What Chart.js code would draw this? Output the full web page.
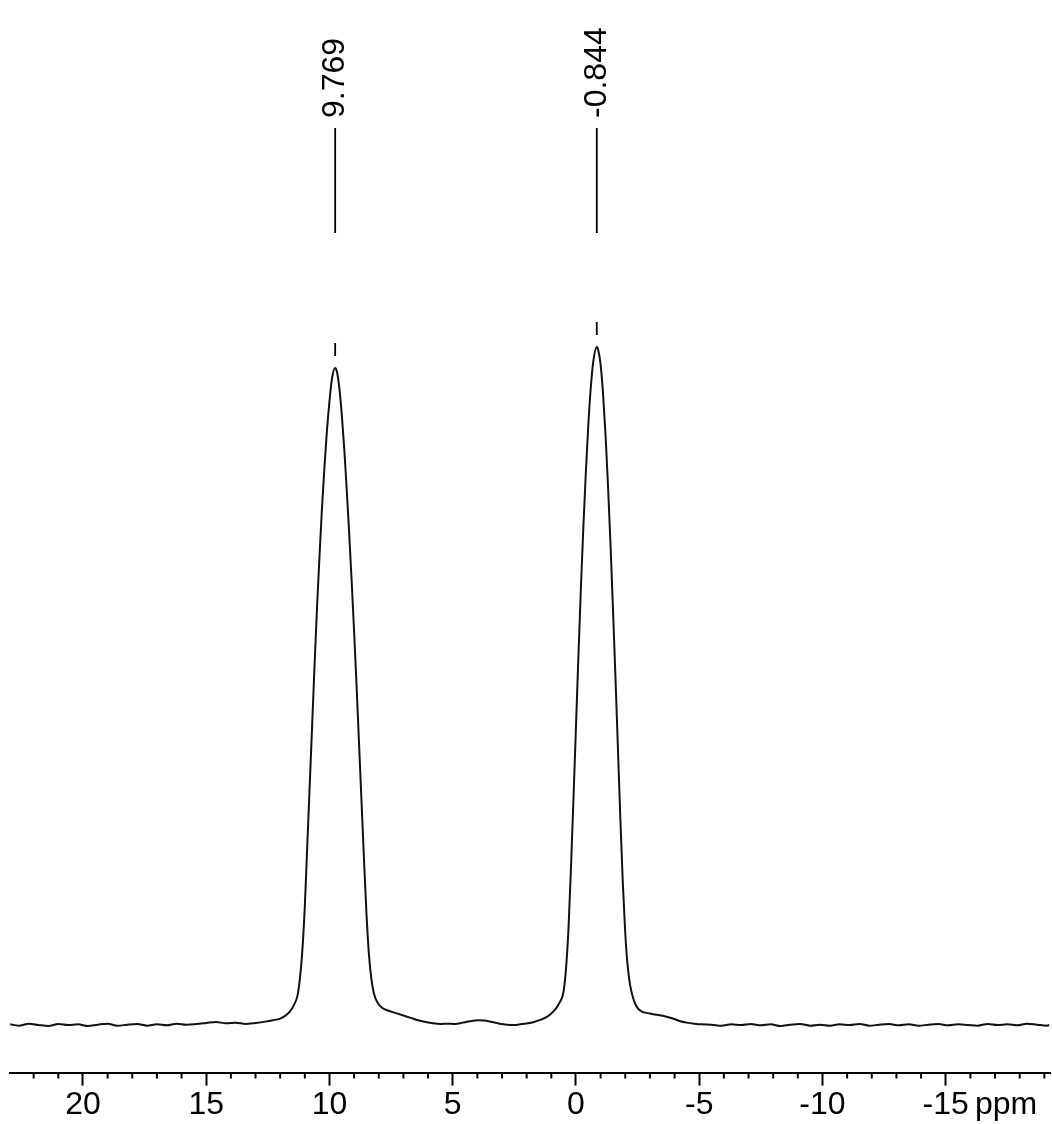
<!DOCTYPE html>
<html>
<head>
<meta charset="utf-8">
<script src="https://cdn.jsdelivr.net/npm/chart.js@4.4.0/dist/chart.umd.min.js"></script>
<style>
  html, body { margin: 0; background: #fff; }
  #wrap { width: 1052px; height: 1124px; position: relative; }
</style>
</head>
<body>
<div id="wrap"><canvas id="spec"></canvas></div>
<script>
// chemical shift (ppm) and intensity
const shiftPpm = [
  // baseline, left
  22.95, 22.6, 22.2, 21.8, 21.4, 21.0, 20.6, 20.2, 19.8, 19.4, 19.0, 18.6, 18.2, 17.8,
  17.4, 17.0, 16.6, 16.2, 15.8, 15.4, 15.0, 14.6, 14.2, 13.8, 13.4, 13.0, 12.6, 12.3,
  // peak at 9.769
  12.0, 11.8, 11.6, 11.45, 11.3, 11.2, 11.1, 11.0, 10.9, 10.8, 10.7, 10.6, 10.5, 10.4, 10.3,
  10.2, 10.1, 10.0, 9.9, 9.77, 9.7, 9.6, 9.5, 9.4, 9.3, 9.2, 9.1, 9.0, 8.9, 8.8,
  8.7, 8.6, 8.5, 8.4, 8.3, 8.2, 8.05, 7.85, 7.6, 7.3, 7.0, 6.7, 6.4, 6.1, 5.8,
  // between peaks
  5.5, 5.2, 4.9, 4.6, 4.3, 4.0, 3.7, 3.4, 3.1, 2.8, 2.5, 2.2,
  // peak at -0.844
  1.95, 1.7, 1.45, 1.2, 1.0, 0.8, 0.65, 0.5, 0.4, 0.3, 0.2, 0.1, 0.0, -0.1, -0.2, -0.3,
  -0.4, -0.5, -0.6, -0.7, -0.844, -0.9, -1.0, -1.1, -1.2, -1.3, -1.4, -1.5, -1.6, -1.7, -1.8,
  -1.9, -2.0, -2.1, -2.2, -2.35, -2.5, -2.7, -3.0, -3.3, -3.6, -3.9, -4.2, -4.5, -4.8, -5.1,
  // baseline, right
  -5.5, -5.9, -6.3, -6.7, -7.1, -7.5, -7.9, -8.3, -8.7, -9.1, -9.5, -9.9, -10.3, -10.7, -11.1, -11.5, -11.9, -12.3,
  -12.7, -13.1, -13.5, -13.9, -14.3, -14.7, -15.1, -15.5, -15.9, -16.3, -16.7, -17.1, -17.5, -17.9, -18.3, -18.7, -19.1, -19.2
];
const intensity = [
  0.10, -0.10, 0.20, 0.00, -0.15, 0.15, 0.00, 0.10, -0.15, 0.05, 0.20, -0.10, 0.05, 0.15,
  -0.10, 0.10, -0.05, 0.20, 0.05, 0.15, 0.30, 0.45, 0.25, 0.35, 0.15, 0.30, 0.50, 0.70,

  0.95, 1.35, 2.0, 2.9, 4.3, 6.8, 11.0, 17.5, 26.5, 35.5, 44.5, 53.5, 62.0, 69.5, 76.5,
  82.5, 87.8, 92.0, 95.3, 96.9, 96.4, 94.0, 90.0, 85.0, 79.0, 72.5, 65.5, 58.0, 50.0, 41.5,
  33.0, 24.5, 16.5, 10.5, 6.8, 4.7, 3.3, 2.5, 2.1, 1.75, 1.4, 1.05, 0.7, 0.45, 0.25,

  0.15, 0.20, 0.15, 0.35, 0.55, 0.70, 0.65, 0.45, 0.20, 0.05, 0.00, 0.15,

  0.25, 0.45, 0.75, 1.15, 1.7, 2.5, 3.4, 5.0, 8.5, 14.5, 23.5, 33.5, 44.0, 54.5, 64.5, 73.5,
  81.5, 88.5, 94.0, 97.8, 100.0, 99.6, 97.4, 93.0, 87.0, 79.5, 71.0, 61.5, 51.5, 41.0, 30.5,
  21.0, 13.5, 8.6, 5.8, 3.6, 2.5, 1.95, 1.7, 1.5, 1.3, 1.0, 0.6, 0.35, 0.2, 0.1,

  0.05, -0.10, 0.10, 0.00, 0.15, -0.05, 0.10, -0.15, 0.05, 0.15, -0.10, 0.05, -0.10, 0.10, 0.00, 0.15, -0.10, 0.05,
  0.15, -0.05, 0.10, -0.10, 0.05, 0.15, -0.05, 0.10, 0.00, -0.10, 0.15, 0.00, 0.10, -0.05, 0.20, 0.05, -0.10, 0.00
];

// axis
const xTickValues = [20, 15, 10, 5, 0, -5, -10, -15];
const axisUnit = 'ppm';

// picked peaks
const peakShifts = [9.769, -0.844];
const peakHeights = [96.9, 100];
const peakLabels = ['9.769', '-0.844'];

const FONT = '"Liberation Sans", Arial, sans-serif';

// peak labels, minor ticks and unit
const peakMarks = {
  id: 'peakMarks',
  afterDraw(chart) {
    const ctx = chart.ctx, xs = chart.scales.x, ys = chart.scales.y;
    ctx.save();
    ctx.strokeStyle = '#000';
    ctx.fillStyle = '#000';
    ctx.lineWidth = 1.8;
    peakShifts.forEach((p, i) => {
      const x = xs.getPixelForValue(p);
      const top = ys.getPixelForValue(peakHeights[i]);
      ctx.beginPath();
      ctx.moveTo(x, 128); ctx.lineTo(x, 233);
      ctx.moveTo(x, top - 25); ctx.lineTo(x, top - 12);
      ctx.stroke();
      ctx.save();
      ctx.translate(x, 118);
      ctx.rotate(-Math.PI / 2);
      ctx.font = '32px ' + FONT;
      ctx.textAlign = 'left';
      ctx.textBaseline = 'middle';
      ctx.fillText(peakLabels[i], 0, 0);
      ctx.restore();
    });

    // minor ticks every 1 ppm
    const axisY = xs.top;
    ctx.lineWidth = 2;
    ctx.beginPath();
    for (let v = Math.ceil(xs.min); v <= Math.floor(xs.max); v++) {
      if (v % 5 === 0) continue;
      const x = xs.getPixelForValue(v);
      ctx.moveTo(x, axisY); ctx.lineTo(x, axisY + 6);
    }
    ctx.stroke();

    ctx.font = '32px ' + FONT;
    ctx.textAlign = 'center';
    ctx.textBaseline = 'middle';
    ctx.fillText(axisUnit, xs.getPixelForValue(-17.45), axisY + 13 + 19.2);
    ctx.restore();
  }
};

new Chart(document.getElementById('spec'), {
  type: 'line',
  data: {
    datasets: [{
      data: shiftPpm.map((s, i) => ({ x: s, y: intensity[i] })),
      borderColor: '#111',
      borderWidth: 2,
      pointRadius: 0,
      cubicInterpolationMode: 'monotone',
      fill: false
    }]
  },
  options: {
    responsive: true,
    maintainAspectRatio: false,
    animation: false,
    layout: { padding: { left: 10, right: 2, top: 0, bottom: 0 } },
    plugins: { legend: { display: false }, tooltip: { enabled: false } },
    scales: {
      x: {
        type: 'linear',
        reverse: true,
        min: -19.23,
        max: 22.96,
        afterBuildTicks: s => { s.ticks = xTickValues.map(v => ({ value: v })); },
        ticks: {
          font: { family: FONT, size: 32 },
          color: '#000',
          padding: 0,
          maxRotation: 0,
          autoSkip: false,
          callback: v => String(v)
        },
        grid: { drawOnChartArea: false, drawTicks: true, tickLength: 13, tickWidth: 2, tickColor: '#000' },
        border: { display: true, color: '#000', width: 2 }
      },
      y: { display: false, min: -7.02, max: 151.2 }
    }
  },
  plugins: [peakMarks]
});
</script>
</body>
</html>
